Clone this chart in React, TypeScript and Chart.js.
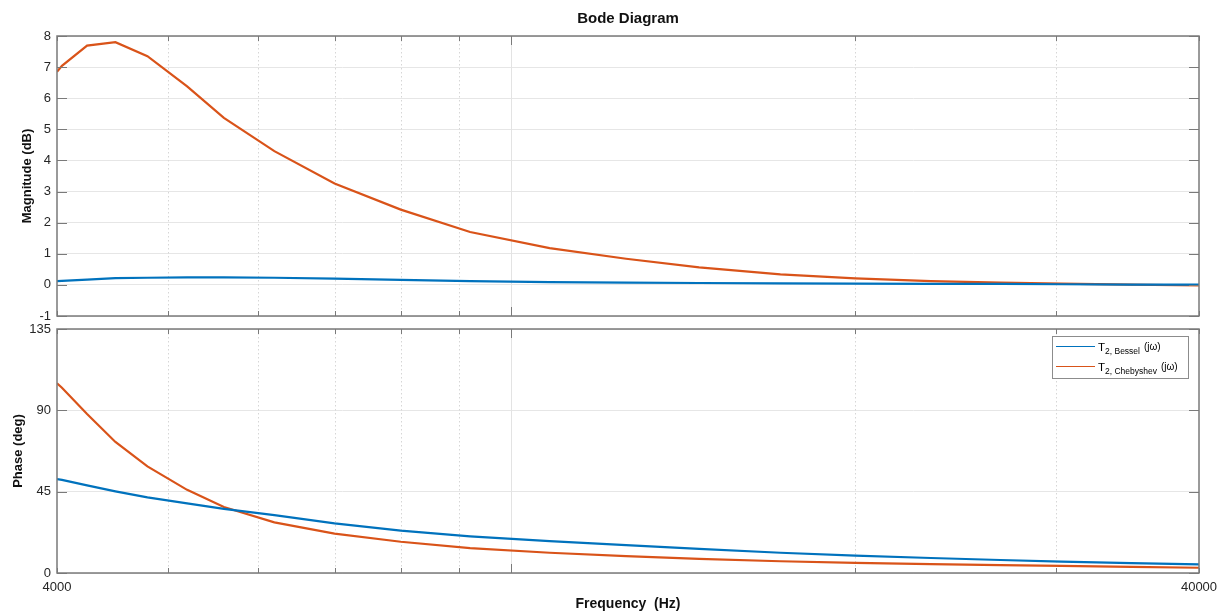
import React, { useEffect, useRef } from "react";
import { Chart, registerables } from "chart.js";

Chart.register(...registerables);

// ---------------- data ----------------
const frequencies = [4000, 4040, 4250, 4500, 4800, 5200, 5600, 6200, 7000, 8000, 9200, 10800, 12600, 14600, 17200, 20000, 23300, 26800, 30300, 34900, 40000];
const magBessel = [0.12, 0.13, 0.17, 0.22, 0.23, 0.24, 0.24, 0.23, 0.2, 0.16, 0.12, 0.09, 0.07, 0.06, 0.05, 0.04, 0.03, 0.03, 0.02, 0.01, 0.01];
const magChebyshev = [6.85, 7.04, 7.69, 7.8, 7.35, 6.38, 5.37, 4.3, 3.26, 2.42, 1.7, 1.18, 0.84, 0.56, 0.34, 0.21, 0.12, 0.07, 0.04, 0.01, -0.02];
const phaseBessel = [52, 51.5, 48.5, 45.2, 41.8, 38.5, 35.5, 32, 27.5, 23.4, 20.3, 17.6, 15.4, 13.3, 11.2, 9.6, 8.3, 7.2, 6.3, 5.5, 4.8];
const phaseChebyshev = [105, 102.5, 88, 72.5, 59, 46, 36.5, 28, 21.8, 17.3, 13.8, 11.2, 9.3, 7.8, 6.5, 5.6, 4.9, 4.4, 3.9, 3.4, 2.9];

const xTickValues = [4000, 5000, 6000, 7000, 8000, 9000, 10000, 20000, 30000, 40000];
const xLabeledTicks = [4000, 40000];
const xMajorGrid = [10000];
const xMinorGrid = [5000, 6000, 7000, 8000, 9000, 20000, 30000];
const magTicks = { min: -1, max: 8, step: 1 };
const phaseTicks = { min: 0, max: 135, step: 45 };

const seriesNames = ["Bessel", "Chebyshev"];
const BLUE = "#0072BD";
const ORANGE = "#D95319";
const FONT = "'Liberation Sans', Arial, Helvetica, sans-serif";
const TEXT = "#262626";
const FRAME = "#7a7a7a";

const toPoints = (ys: number[]) => frequencies.map((f, i) => ({ x: f, y: ys[i] }));

const boxPlugin = {
  id: "matlabBox",
  beforeDatasetsDraw(chart: any) {
    const { ctx, chartArea: a, scales } = chart;
    const xs = scales.x;
    ctx.save();
    ctx.lineWidth = 1;
    ctx.strokeStyle = "#d6d6d6";
    ctx.setLineDash([1.5, 2.5]);
    for (const v of xMinorGrid) {
      const px = Math.round(xs.getPixelForValue(v)) + 0.5;
      ctx.beginPath();
      ctx.moveTo(px, a.top);
      ctx.lineTo(px, a.bottom);
      ctx.stroke();
    }
    ctx.setLineDash([]);
    ctx.strokeStyle = "#e3e3e3";
    for (const v of xMajorGrid) {
      const px = Math.round(xs.getPixelForValue(v)) + 0.5;
      ctx.beginPath();
      ctx.moveTo(px, a.top);
      ctx.lineTo(px, a.bottom);
      ctx.stroke();
    }
    ctx.restore();
  },
  afterDraw(chart: any) {
    const { ctx, chartArea: a, scales } = chart;
    const xs = scales.x;
    const ys = scales.y;
    ctx.save();
    ctx.strokeStyle = FRAME;
    ctx.lineWidth = 1;
    for (const t of ys.ticks) {
      const py = Math.round(ys.getPixelForValue(t.value)) + 0.5;
      ctx.beginPath();
      ctx.moveTo(a.left, py);
      ctx.lineTo(a.left + 10, py);
      ctx.moveTo(a.right, py);
      ctx.lineTo(a.right - 10, py);
      ctx.stroke();
    }
    for (const v of xTickValues) {
      const px = Math.round(xs.getPixelForValue(v)) + 0.5;
      const len = xMajorGrid.includes(v) ? 9 : 5;
      ctx.beginPath();
      ctx.moveTo(px, a.bottom);
      ctx.lineTo(px, a.bottom - len);
      ctx.moveTo(px, a.top);
      ctx.lineTo(px, a.top + len);
      ctx.stroke();
    }
    ctx.lineWidth = 1.5;
    ctx.strokeRect(a.left, a.top, a.right - a.left, a.bottom - a.top);
    ctx.restore();
  },
};

const legendPlugin = {
  id: "subscriptLegend",
  afterDraw(chart: any) {
    const { ctx, chartArea: a } = chart;
    const left = Math.round(a.right - 147);
    const top = Math.round(a.top + 7);
    const w = 136;
    const h = 42;
    ctx.save();
    ctx.fillStyle = "#ffffff";
    ctx.fillRect(left, top, w, h);
    ctx.strokeStyle = "#8c8c8c";
    ctx.lineWidth = 1;
    ctx.strokeRect(left + 0.5, top + 0.5, w, h);
    const colors = [BLUE, ORANGE];
    seriesNames.forEach((name, i) => {
      const ly = top + 10.5 + i * 20;
      ctx.strokeStyle = colors[i];
      ctx.lineWidth = 1;
      ctx.beginPath();
      ctx.moveTo(left + 4, ly);
      ctx.lineTo(left + 43, ly);
      ctx.stroke();
      ctx.fillStyle = "#000";
      ctx.textBaseline = "alphabetic";
      ctx.textAlign = "left";
      let x = left + 46;
      ctx.font = `11.5px ${FONT}`;
      ctx.fillText("T", x, ly + 4.5);
      x += ctx.measureText("T").width;
      ctx.font = `8.5px ${FONT}`;
      const sub = `2, ${name}`;
      ctx.fillText(sub, x, ly + 7.5);
      x += ctx.measureText(sub).width + 4;
      ctx.font = `10px ${FONT}`;
      ctx.fillText("(jω)", x, ly + 3.5);
    });
    ctx.restore();
  },
};

function lineDataset(label: string, ys: number[], color: string) {
  return {
    label,
    data: toPoints(ys),
    borderColor: color,
    backgroundColor: color,
    borderWidth: 2.2,
    pointRadius: 0,
    tension: 0,
    fill: false,
  };
}

export default function App() {
  const topRef = useRef<HTMLCanvasElement>(null);
  const botRef = useRef<HTMLCanvasElement>(null);

  useEffect(() => {
    const yCommon = (title: string, titlePad: number, t: { min: number; max: number; step: number }) => ({
      type: "linear" as const,
      position: "left" as const,
      min: t.min,
      max: t.max,
      ticks: { stepSize: t.step, padding: 6, color: TEXT, font: { family: FONT, size: 13 } },
      grid: { color: "#e6e6e6", lineWidth: 1, drawTicks: false },
      border: { display: false },
      title: { display: true, text: title, color: "#111", font: { family: FONT, size: 13, weight: "bold" as const }, padding: { top: titlePad, bottom: 0 } },
      afterFit: (s: any) => {
        s.width = 57;
        s.paddingTop = 0;
        s.paddingBottom = 0;
      },
    });

    const top = new Chart(topRef.current!, {
      type: "line",
      data: {
        datasets: [
          lineDataset("T2, Bessel (jω)", magBessel, BLUE),
          lineDataset("T2, Chebyshev (jω)", magChebyshev, ORANGE),
        ],
      },
      options: {
        animation: false,
        responsive: false,
        layout: { padding: { left: 0, right: 24, top: 0, bottom: 14 } },
        plugins: {
          legend: { display: false },
          tooltip: { enabled: false },
          title: {
            display: true,
            text: "Bode Diagram",
            color: "#111",
            fullSize: false,
            font: { family: FONT, size: 15, weight: "bold" },
            padding: { top: 10, bottom: 8 },
          },
        },
        scales: {
          x: { type: "logarithmic", min: 4000, max: 40000, display: false },
          y: yCommon("Magnitude (dB)", 20, magTicks),
        },
      },
      plugins: [boxPlugin],
    } as any);

    const bot = new Chart(botRef.current!, {
      type: "line",
      data: {
        datasets: [
          lineDataset("T2, Bessel (jω)", phaseBessel, BLUE),
          lineDataset("T2, Chebyshev (jω)", phaseChebyshev, ORANGE),
        ],
      },
      options: {
        animation: false,
        responsive: false,
        layout: { padding: { left: 0, right: 24, top: 9, bottom: 0 } },
        plugins: { legend: { display: false }, tooltip: { enabled: false }, title: { display: false } },
        scales: {
          x: {
            type: "logarithmic",
            min: 4000,
            max: 40000,
            afterBuildTicks: (s: any) => {
              s.ticks = xTickValues.map((v) => ({ value: v }));
            },
            ticks: {
              autoSkip: false,
              maxRotation: 0,
              padding: 7,
              color: TEXT,
              font: { family: FONT, size: 13 },
              callback: (v: any) => (xLabeledTicks.includes(Number(v)) ? String(v) : ""),
            },
            grid: { display: false, drawTicks: false },
            border: { display: false },
            title: {
              display: true,
              text: "Frequency  (Hz)",
              color: "#111",
              font: { family: FONT, size: 14, weight: "bold" },
              padding: { top: 0, bottom: 0 },
            },
            afterFit: (s: any) => {
              s.height = 40;
              s.paddingLeft = 0;
              s.paddingRight = 0;
            },
          },
          y: yCommon("Phase (deg)", 11, phaseTicks),
        },
      },
      plugins: [boxPlugin, legendPlugin],
    } as any);

    return () => {
      top.destroy();
      bot.destroy();
    };
  }, []);

  return (
    <div style={{ position: "absolute", left: 0, top: 0, width: 1223, height: 613, background: "#fff" }}>
      <canvas ref={topRef} width={1223} height={330} style={{ position: "absolute", left: 0, top: 0, display: "block" }} />
      <canvas ref={botRef} width={1223} height={293} style={{ position: "absolute", left: 0, top: 320, display: "block" }} />
    </div>
  );
}
